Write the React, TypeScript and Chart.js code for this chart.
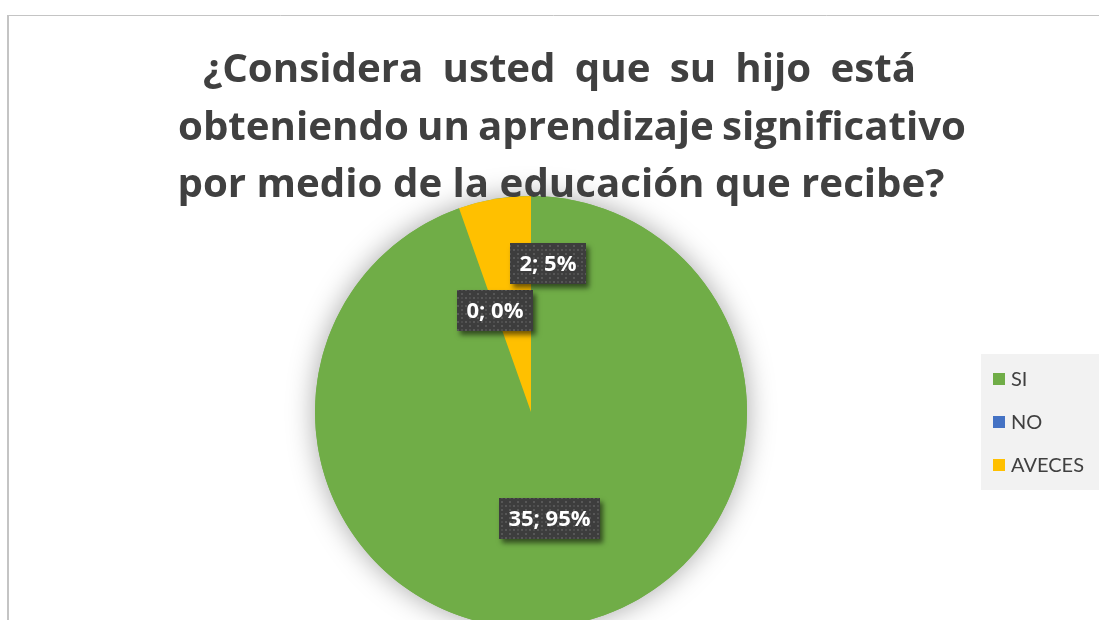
import React, { useEffect, useRef } from "react";
import { Chart, registerables } from "chart.js";
Chart.register(...registerables);

const categories = ["SI", "NO", "AVECES"];
const values = [35, 0, 2];
const colors = ["#70AD47", "#4472C4", "#FFC000"];
const titleLines = [
  "¿Considera usted que su hijo está",
  "obteniendo un aprendizaje significativo",
  "por medio de la educación que recibe?",
];

const TEXT = "#404040";
const TFONT = "'Open Sans', Lato, sans-serif";
const LFONT = "Lato, 'Open Sans', sans-serif";

function makePattern(ctx: CanvasRenderingContext2D) {
  const c = document.createElement("canvas");
  c.width = 8;
  c.height = 8;
  const p = c.getContext("2d")!;
  p.fillStyle = "#3d3d3d";
  p.fillRect(0, 0, 8, 8);
  p.fillStyle = "#575757";
  p.fillRect(1, 1, 2, 2);
  p.fillRect(5, 5, 2, 2);
  p.fillStyle = "#4c4c4c";
  p.fillRect(5, 1, 2, 2);
  return ctx.createPattern(c, "repeat");
}

const decorPlugin = {
  id: "decor",
  beforeDraw(chart: any) {
    const ctx = chart.ctx as CanvasRenderingContext2D;
    ctx.save();
    ctx.fillStyle = "#ffffff";
    ctx.fillRect(0, 0, chart.width, chart.height);
    ctx.strokeStyle = "#c4c4c4";
    ctx.lineWidth = 1;
    ctx.beginPath();
    ctx.moveTo(8, 15.5);
    ctx.lineTo(chart.width, 15.5);
    ctx.stroke();
    ctx.lineWidth = 2;
    ctx.beginPath();
    ctx.moveTo(8, 15);
    ctx.lineTo(8, chart.height);
    ctx.stroke();
    ctx.restore();
  },
  beforeDatasetsDraw(chart: any) {
    const ctx = chart.ctx as CanvasRenderingContext2D;
    const arc = chart.getDatasetMeta(0).data[0];
    if (!arc) return;
    const { x, y, outerRadius } = arc.getProps(["x", "y", "outerRadius"], true);
    ctx.save();
    ctx.shadowColor = "rgba(0,0,0,0.35)";
    ctx.shadowBlur = 28;
    ctx.fillStyle = "#70AD47";
    ctx.beginPath();
    ctx.arc(x, y, outerRadius, 0, Math.PI * 2);
    ctx.fill();
    ctx.restore();
  },
  afterDatasetsDraw(chart: any) {
    const ctx = chart.ctx as CanvasRenderingContext2D;
    const meta = chart.getDatasetMeta(0);
    const data = chart.data.datasets[0].data as number[];
    const total = data.reduce((a, b) => a + b, 0);
    const offsets = [
      [0, 0],
      [0, 0],
      [35, -42],
    ];
    const pattern = makePattern(ctx);
    ctx.save();
    ctx.font = `bold 22px ${TFONT}`;
    meta.data.forEach((el: any, i: number) => {
      const { x, y, startAngle, endAngle, outerRadius } = el.getProps(
        ["x", "y", "startAngle", "endAngle", "outerRadius"],
        true
      );
      const mid = (startAngle + endAngle) / 2;
      const cx = x + Math.cos(mid) * outerRadius * 0.5 + offsets[i][0];
      const cy = y + Math.sin(mid) * outerRadius * 0.5 + offsets[i][1];
      const label = `${data[i]}; ${Math.round((data[i] / total) * 100)}%`;
      const tw = ctx.measureText(label).width;
      const w = Math.round(tw + 19);
      const h = 41;
      const bx = Math.round(cx - w / 2);
      const by = Math.round(cy - h / 2);
      ctx.save();
      ctx.shadowColor = "rgba(0,0,0,0.55)";
      ctx.shadowBlur = 5;
      ctx.shadowOffsetX = 3;
      ctx.shadowOffsetY = 4;
      ctx.fillStyle = "#3d3d3d";
      ctx.fillRect(bx, by, w, h);
      ctx.restore();
      ctx.fillStyle = pattern || "#3d3d3d";
      ctx.fillRect(bx, by, w, h);
      ctx.fillStyle = "#ffffff";
      ctx.textAlign = "center";
      ctx.textBaseline = "middle";
      ctx.fillText(label, bx + w / 2, by + h / 2 + 1);
    });
    ctx.restore();
  },
  afterDraw(chart: any) {
    const ctx = chart.ctx as CanvasRenderingContext2D;
    ctx.save();
    // Title
    ctx.fillStyle = TEXT;
    ctx.font = `bold 40px ${TFONT}`;
    ctx.textBaseline = "alphabetic";
    const last = titleLines[titleLines.length - 1];
    const sx = 767 / ctx.measureText(last).width;
    const spans = [
      [203, 916],
      [178, 966],
    ];
    const baselines = [82, 140, 197];
    titleLines.forEach((line, i) => {
      if (i < spans.length) {
        const words = line.split(" ");
        const widths = words.map((w) => ctx.measureText(w).width * sx);
        const sum = widths.reduce((a, b) => a + b, 0);
        const [l, r] = spans[i];
        const gap = (r - l - sum) / (words.length - 1);
        let xx = l;
        ctx.textAlign = "left";
        words.forEach((w, k) => {
          ctx.save();
          ctx.translate(xx, baselines[i]);
          ctx.scale(sx, 1);
          ctx.fillText(w, 0, 0);
          ctx.restore();
          xx += widths[k] + gap;
        });
      } else {
        ctx.save();
        ctx.translate(561, baselines[i]);
        ctx.scale(sx, 1);
        ctx.textAlign = "center";
        ctx.fillText(line, 0, 0);
        ctx.restore();
      }
    });
    // Legend
    ctx.fillStyle = "#f2f2f2";
    ctx.fillRect(981, 354, chart.width - 981, 136);
    ctx.font = `20px ${LFONT}`;
    ctx.textAlign = "left";
    ctx.textBaseline = "middle";
    const labels = chart.data.labels as string[];
    const bg = chart.data.datasets[0].backgroundColor as string[];
    labels.forEach((lab, i) => {
      const yy = 379 + i * 43;
      ctx.fillStyle = bg[i];
      ctx.fillRect(993, yy - 6, 12, 12);
      ctx.fillStyle = TEXT;
      ctx.fillText(lab, 1011, yy + 1);
    });
    ctx.restore();
  },
};

export default function App() {
  const ref = useRef<HTMLCanvasElement>(null);
  useEffect(() => {
    document.body.style.margin = "0";
    document.body.style.overflow = "hidden";
    const chart = new Chart(ref.current!, {
      type: "pie",
      data: {
        labels: categories,
        datasets: [
          {
            data: values,
            backgroundColor: colors,
            borderWidth: 0,
          },
        ],
      },
      options: {
        responsive: false,
        animation: false,
        radius: 216,
        layout: { padding: { left: 0, right: 37, top: 164, bottom: 0 } },
        plugins: {
          legend: { display: false },
          title: { display: false },
          tooltip: { enabled: false },
        },
      } as any,
      plugins: [decorPlugin],
    });
    return () => chart.destroy();
  }, []);
  return <canvas ref={ref} width={1099} height={660} style={{ display: "block" }} />;
}
